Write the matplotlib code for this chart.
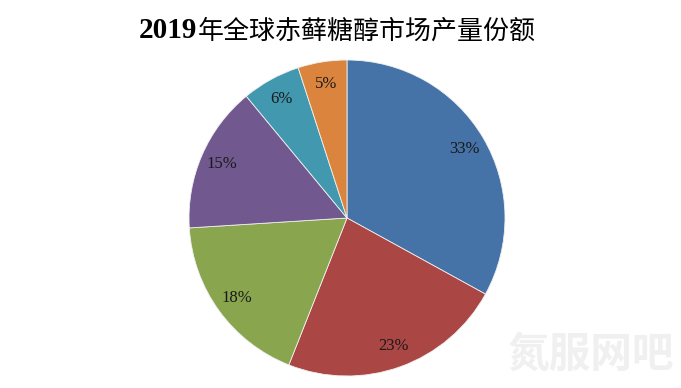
import matplotlib.pyplot as plt

labels = ['A', 'B', 'C', 'D', 'E', 'F']
shares = [33, 23, 18, 15, 6, 5]
colors = ['#4572A7', '#AA4643', '#89A54E', '#71588F', '#4198AF', '#DB843D']

W, H = 681, 388
fig = plt.figure(figsize=(W / 100, H / 100), dpi=100)
ax = fig.add_axes([0, 0, 1, 1])

wedges, texts, autotexts = ax.pie(
    shares, colors=colors, startangle=90, counterclock=False,
    center=(347, H - 218), radius=158, frame=True,
    autopct='%d%%', pctdistance=0.86,
    wedgeprops=dict(edgecolor='#f0f0f0', linewidth=0.6),
    textprops=dict(family='Liberation Serif', fontsize=12, color='#1a1a1a'))

ax.set_xlim(0, W)
ax.set_ylim(0, H)
ax.axis('off')

# title: bold serif year + CJK text
ty = 1 - 31 / H
fig.text(197 / W, ty, '2019', ha='right', va='center', fontsize=21,
         fontweight='bold', family='Liberation Serif', color='black')
fig.text(198 / W, ty, '年全球赤藓糖醇市场产量份额', ha='left', va='center',
         fontsize=18.7, fontweight='medium', family=['Noto Sans CJK SC'],
         color='black')

# faint watermark
fig.text(591 / W, 1 - 355 / H, '氮服网吧', ha='center', va='center',
         fontsize=30, fontweight='heavy', family=['Noto Sans CJK SC'],
         color='#f0f0f0')

fig.savefig('out.png', dpi=100)
